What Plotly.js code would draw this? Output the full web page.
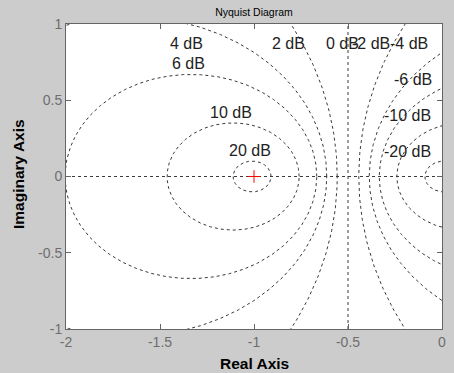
<!DOCTYPE html>
<html><head><meta charset="utf-8">
<script src="https://cdn.plot.ly/plotly-3.0.1.min.js"></script>
<style>html,body{margin:0;padding:0;background:#cccccc;}</style>
</head><body><div id="chart" style="width:454px;height:373px;"></div>
<script>
// Constant-gain (M-circle) levels in dB
const gainLevelsDb = [20, 10, 6, 4, 2, -2, -4, -6, -10, -20];
const zeroDbLevel = 0;
// Label texts and where MATLAB placed them (data coords)
const labelTexts = ['4 dB','6 dB','2 dB','0 dB','-2 dB','-4 dB','-6 dB','-10 dB','-20 dB','10 dB','20 dB'];
const labelX = [-1.358,-1.349,-0.815,-0.528,-0.380,-0.176,-0.154,-0.184,-0.184,-1.122,-1.021];
const labelY = [0.873,0.742,0.873,0.873,0.873,0.873,0.637,0.402,0.162,0.420,0.173];
// Critical point
const critX = [-1], critY = [0];
const xTicks = [-2,-1.5,-1,-0.5,0];
const yTicks = [-1,-0.5,0,0.5,1];

const FONT = 'Liberation Sans, Arial, Helvetica, sans-serif';
const gridLine = {color:'#3a3a3a', width:1, dash:'3px,3px'};
const traces = [];
// M-circles derived from each gain level
gainLevelsDb.forEach(db => {
  const M = Math.pow(10, db/20);
  const c = -M*M/(M*M-1);
  const r = Math.abs(M/(M*M-1));
  const xs = [], ys = [];
  for (let i = 0; i <= 720; i++) {
    const t = 2*Math.PI*i/720;
    xs.push(c + r*Math.cos(t)); ys.push(r*Math.sin(t));
  }
  traces.push({x:xs, y:ys, mode:'lines', line:gridLine, hoverinfo:'skip', showlegend:false});
});
// 0 dB line: Re = -1/2
traces.push({x:[-0.5,-0.5], y:[-1,1], mode:'lines', line:gridLine, showlegend:false});
// real axis line
traces.push({x:[-2,0], y:[zeroDbLevel,zeroDbLevel], mode:'lines', line:gridLine, showlegend:false});
// critical point
traces.push({x:critX, y:critY, mode:'markers', marker:{symbol:'cross-thin', size:9, line:{color:'#ff0000', width:1}}, showlegend:false});

const annotations = labelTexts.map((t,i)=>({x:labelX[i], y:labelY[i], xref:'x', yref:'y', text:t, showarrow:false,
  font:{family:FONT, size:16, color:'#222222'}, xanchor:'center', yanchor:'middle'}));
annotations.push({text:'Real Axis', xref:'paper', yref:'paper', x:0.5, y:-0.1115, xanchor:'center', yanchor:'middle', showarrow:false,
  font:{family:FONT, size:15.5, color:'#000000', weight:'bold'}});
annotations.push({text:'Imaginary Axis', xref:'paper', yref:'paper', x:-0.1277, y:0.508, xanchor:'center', yanchor:'middle', textangle:-90, showarrow:false,
  font:{family:FONT, size:15.5, color:'#000000', weight:'bold'}});

const axisCommon = {showgrid:false, zeroline:false, showline:true, linecolor:'#646464', linewidth:1, mirror:'ticks',
  ticks:'inside', ticklen:5, tickcolor:'#646464', tickfont:{family:FONT, size:14, color:'#6e6e6e'}, fixedrange:true};
const layout = {
  width:454, height:373,
  paper_bgcolor:'#cccccc', plot_bgcolor:'#ffffff',
  margin:{l:66, r:12, t:24, b:44},
  title:{text:'Nyquist Diagram', font:{family:FONT, size:10.5, color:'#000000'}, x:0.5, xref:'paper', y:1-12/373, yref:'container', xanchor:'center', yanchor:'middle'},
  xaxis:Object.assign({}, axisCommon, {range:[-2,0], tickvals:xTicks, ticktext:xTicks.map(String)}),
  yaxis:Object.assign({}, axisCommon, {range:[-1,1], tickvals:yTicks, ticktext:yTicks.map(String)}),
  annotations:annotations,
  showlegend:false
};
Plotly.newPlot('chart', traces, layout, {staticPlot:true, displayModeBar:false});
</script></body></html>
